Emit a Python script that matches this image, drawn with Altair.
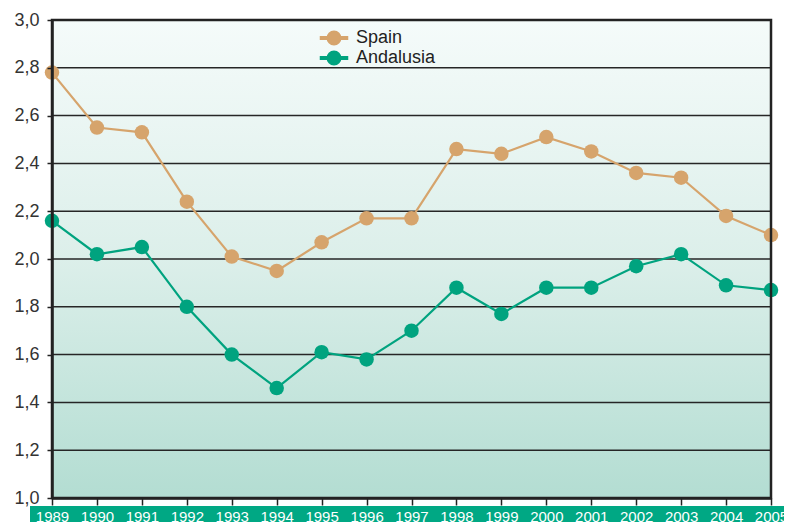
import altair as alt
import pandas as pd

years = list(range(1989, 2006))
spain = [2.78, 2.55, 2.53, 2.24, 2.01, 1.95, 2.07, 2.17, 2.17, 2.46, 2.44, 2.51, 2.45, 2.36, 2.34, 2.18, 2.10]
andalusia = [2.16, 2.02, 2.05, 1.80, 1.60, 1.46, 1.61, 1.58, 1.70, 1.88, 1.77, 1.88, 1.88, 1.97, 2.02, 1.89, 1.87]
series = ["Spain", "Andalusia"]
colors = ["#d6a46c", "#00a37f"]
y_ticks = [1.0, 1.2, 1.4, 1.6, 1.8, 2.0, 2.2, 2.4, 2.6, 2.8, 3.0]

W, H = 719, 478

df = pd.DataFrame({
    "year": years * 2,
    "value": spain + andalusia,
    "region": [series[0]] * len(years) + [series[1]] * len(years),
})

xs = alt.Scale(domain=[1989, 2005], nice=False, zero=False)
ys = alt.Scale(domain=[1.0, 3.0], nice=False, zero=False)
cs = alt.Scale(domain=series, range=colors)

one = pd.DataFrame({"a": [0]})

bg = alt.Chart(one).mark_rect(
    color=alt.LinearGradient(
        gradient="linear",
        stops=[alt.GradientStop(color="#f5fbfa", offset=0),
               alt.GradientStop(color="#dcefea", offset=0.5),
               alt.GradientStop(color="#b3ddd2", offset=1)],
        x1=0, x2=0, y1=0, y2=1,
    )
).encode(x=alt.value(0), x2=alt.value(W), y=alt.value(0), y2=alt.value(H))

band = alt.Chart(one).mark_rect(color="#00a884").encode(
    x=alt.value(-22), x2=alt.value(W + 40), y=alt.value(486), y2=alt.value(520)
)

yaxis = alt.Axis(values=y_ticks,
                 labelExpr="replace(format(datum.value, '.1f'), '.', ',')",
                 title=None, grid=False, zindex=1, labelFlush=False)

grid = alt.Chart(pd.DataFrame({"g": y_ticks})).mark_rule(color="#262626", strokeWidth=1.5).encode(
    y=alt.Y("g:Q", scale=ys, axis=yaxis)
)

xaxis = alt.Axis(values=years, format="d", title=None, grid=False, zindex=1, labelFlush=False)

sym = ("M-1.5,-0.14 L1.5,-0.14 L1.5,0.14 L-1.5,0.14 Z "
       "M-0.75,0 A0.75,0.75 0 1,1 0.75,0 A0.75,0.75 0 1,1 -0.75,0 Z")

legend = alt.Legend(title=None, orient="none", legendX=272, legendY=8,
                    symbolType=sym, symbolSize=324, symbolOpacity=1,
                    labelFontSize=18, labelFont="Liberation Sans",
                    labelColor="#222", labelOffset=12, rowPadding=0)

line = alt.Chart(df).mark_line(strokeWidth=2.2).encode(
    x=alt.X("year:Q", scale=xs, axis=xaxis),
    y=alt.Y("value:Q", scale=ys, axis=yaxis),
    color=alt.Color("region:N", scale=cs, legend=legend),
    detail="region:N",
)

pts = alt.Chart(df).mark_point(filled=True, size=210, opacity=1).encode(
    x=alt.X("year:Q", scale=xs, axis=xaxis),
    y=alt.Y("value:Q", scale=ys, axis=yaxis),
    color=alt.Color("region:N", scale=cs, legend=legend),
)

frame = alt.Chart(one).mark_rect(fillOpacity=0, stroke="#222", strokeWidth=2.5).encode(
    x=alt.value(0), x2=alt.value(W), y=alt.value(0), y2=alt.value(H)
)

chart = alt.layer(bg, band, grid, line, pts, frame).properties(
    width=W, height=H,
    autosize=alt.AutoSizeParams(type="none"),
    padding={"left": 44, "top": 12, "right": 13, "bottom": 24},
).configure_view(stroke=None).configure(background="white").configure_axisY(
    labelColor="#333", labelFontSize=18, labelFont="Liberation Sans",
    tickColor="#222", tickSize=5, tickWidth=1.5, labelPadding=8,
    domainColor="#222", domainWidth=2.5,
).configure_axisX(
    labelColor="white", labelFontSize=15, labelFont="Liberation Sans",
    tickColor="#222", tickSize=7, tickWidth=1.5, labelPadding=4,
    domainColor="#222", domainWidth=2.5,
)

chart.save("out.html", embed_options={"renderer": "svg", "actions": False})
